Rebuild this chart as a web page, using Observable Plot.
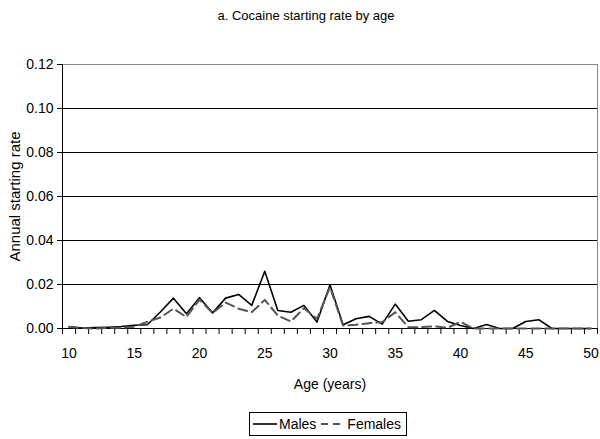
<!DOCTYPE html>
<html>
<head>
<meta charset="utf-8">
<script src="https://cdn.jsdelivr.net/npm/d3@7"></script>
<script src="https://cdn.jsdelivr.net/npm/@observablehq/plot@0.6"></script>
<style>
  body { margin: 0; background: #fff; }
  #wrap { width: 600px; height: 439px; position: relative; overflow: hidden;
    font-family: "Liberation Sans Narrow", "Arial Narrow", "Liberation Sans", Arial, sans-serif; color: #000; }
  #title { height: 32px; line-height: 32px; font-size: 13px; text-align: center; box-sizing: border-box; width: 600px; padding-left: 12px; }
  #chart svg { display: block; }
  #chart g[aria-label="y-axis label"] text { font-family: "Liberation Sans", Arial, sans-serif; font-size: 15px; }
  #legendRow { width: 600px; box-sizing: border-box; padding-left: 56px; text-align: center; margin-top: 16px; }
  #legend { display: inline-flex; align-items: center; border: 1px solid #000; padding: 2px 5px 2px 3px; font-size: 14px; height: 18px; }
  #legend svg { display: block; margin-right: 2px; }
  #legend span { margin-right: 5px; }
</style>
</head>
<body>
<div id="wrap">
  <div id="title">a. Cocaine starting rate by age</div>
  <div id="chart"></div>
  <div id="legendRow"><div id="legend"></div></div>
</div>
<script>
const ages = [10, 11, 12, 13, 14, 15, 16, 17, 18, 19, 20, 21, 22, 23, 24, 25, 26, 27, 28, 29, 30,
              31, 32, 33, 34, 35, 36, 37, 38, 39, 40, 41, 42, 43, 44, 45, 46, 47, 48, 49, 50];
const males = [0.0008, 0.0002, 0.0004, 0.0006, 0.0009, 0.0015, 0.0017, 0.0075, 0.0138, 0.0067, 0.0140,
               0.0071, 0.0138, 0.0155, 0.0105, 0.0260, 0.0082, 0.0074, 0.0105, 0.0029, 0.0199,
               0.0017, 0.0044, 0.0055, 0.0020, 0.0111, 0.0033, 0.0040, 0.0082, 0.0032, 0.0014,
               0.0000, 0.0018, 0.0000, 0.0000, 0.0032, 0.0040, 0.0000, 0.0000, 0.0000, 0.0000];
const females = [0.0008, 0.0002, 0.0000, 0.0003, 0.0003, 0.0008, 0.0030, 0.0050, 0.0090, 0.0052, 0.0132,
                 0.0070, 0.0118, 0.0090, 0.0074, 0.0130, 0.0059, 0.0032, 0.0092, 0.0044, 0.0188,
                 0.0014, 0.0017, 0.0024, 0.0029, 0.0074, 0.0006, 0.0006, 0.0010, 0.0003, 0.0030,
                 0.0000, 0.0000, 0.0000, 0.0000, 0.0000, 0.0000, 0.0000, 0.0000, 0.0000, 0.0000];
const yTicks = [0, 0.02, 0.04, 0.06, 0.08, 0.10, 0.12];
const xLabelTicks = [10, 15, 20, 25, 30, 35, 40, 45, 50];
const seriesNames = ["Males", "Females"];

const table = ages.map((a, i) => ({age: a, male: males[i], female: females[i]}));
const boundaries = ages.map(a => a - 0.5).concat([ages[ages.length - 1] + 0.5]);

const chart = Plot.plot({
  width: 600,
  height: 364,
  marginTop: 32,
  marginBottom: 68,
  marginLeft: 62,
  marginRight: 3,
  style: {fontSize: "14px", fontFamily: "'Liberation Sans Narrow', 'Arial Narrow', 'Liberation Sans', Arial, sans-serif", color: "#000", background: "#fff"},
  x: {domain: [boundaries[0], boundaries[boundaries.length - 1]]},
  y: {domain: [0, 0.12]},
  marks: [
    Plot.frame({stroke: "#888"}),
    Plot.ruleY(yTicks.filter(d => d > 0 && d < 0.12), {stroke: "#000", strokeWidth: 1}),
    Plot.axisY({ticks: yTicks, tickFormat: d3.format(".2f"), tickSize: 5, tickPadding: 4,
      label: "Annual starting rate", labelAnchor: "center", labelArrow: "none", labelOffset: 53}),
    Plot.axisX({ticks: boundaries, tickSize: 6, tickFormat: () => "", label: null}),
    Plot.axisX({ticks: xLabelTicks, tickSize: 0, tickPadding: 20, tickFormat: d => String(d),
      label: "Age (years)", labelAnchor: "center", labelArrow: "none", labelOffset: 60}),
    Plot.ruleY([0], {stroke: "#000"}),
    Plot.ruleX([boundaries[0]], {stroke: "#000"}),
    Plot.line(table, {x: "age", y: "male", stroke: "#000", strokeWidth: 1.6}),
    Plot.line(table, {x: "age", y: "female", stroke: "#555", strokeWidth: 2, strokeDasharray: "9,5"})
  ]
});
document.getElementById("chart").appendChild(chart);

const legend = document.getElementById("legend");
const styles = [{stroke: "#000", dash: null, w: 1.6}, {stroke: "#555", dash: "7,5", w: 2}];
seriesNames.forEach((name, i) => {
  const s = styles[i];
  const svg = d3.create("svg").attr("width", 24).attr("height", 12);
  svg.append("line").attr("x1", 0).attr("x2", 24).attr("y1", 6).attr("y2", 6)
    .attr("stroke", s.stroke).attr("stroke-width", s.w).attr("stroke-dasharray", s.dash);
  legend.appendChild(svg.node());
  const sp = document.createElement("span");
  sp.textContent = name;
  if (i === seriesNames.length - 1) sp.style.marginRight = "0";
  legend.appendChild(sp);
});
</script>
</body>
</html>
